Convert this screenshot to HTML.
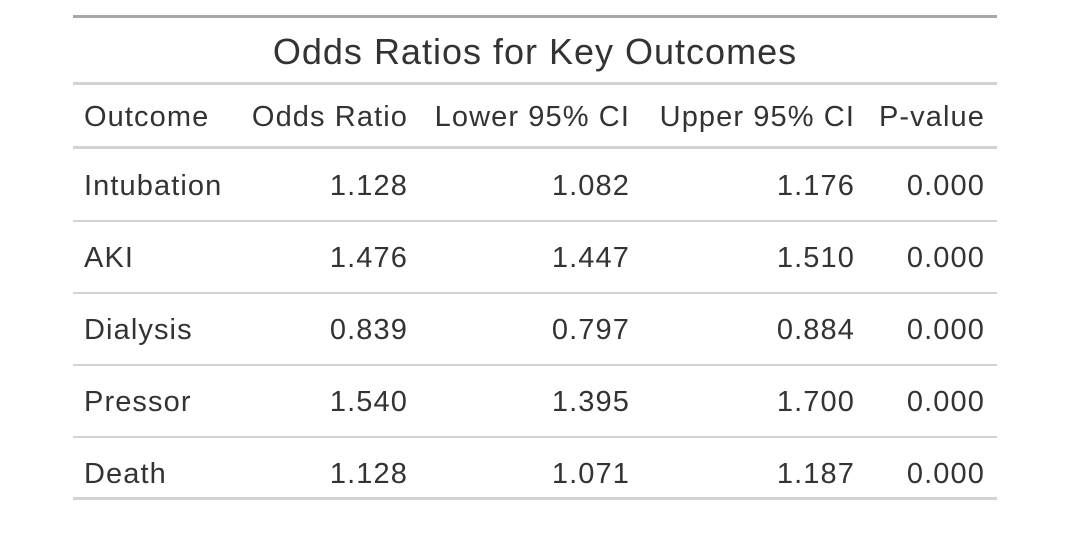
<!DOCTYPE html>
<html><head><meta charset="utf-8"><style>
body{margin:0;width:1066px;height:544px;background:#fff;position:relative;overflow:hidden;font-family:"Liberation Sans",sans-serif;color:#333}
.l{position:absolute;left:73px;width:924px}
.t{position:absolute;font-size:29px;letter-spacing:1.1px;line-height:30px;white-space:nowrap}
.r{text-align:right}
</style></head><body>
<div class="l" style="top:15px;height:3px;background:#A8A8A8"></div>
<div class="t" style="left:73px;width:924px;text-align:center;top:33px;font-size:36px;line-height:38px;letter-spacing:1px">Odds Ratios for Key Outcomes</div>
<div class="l" style="top:82px;height:3px;background:#D3D3D3"></div>
<div class="l" style="top:146px;height:3px;background:#D3D3D3"></div>
<div id="tbl"></div>
<script>
const headers=["Outcome","Odds Ratio","Lower 95% CI","Upper 95% CI","P-value"];
const outcomes=["Intubation","AKI","Dialysis","Pressor","Death"];
const oddsRatio=["1.128","1.476","0.839","1.540","1.128"];
const lower=["1.082","1.447","0.797","1.395","1.071"];
const upper=["1.176","1.510","0.884","1.700","1.187"];
const pval=["0.000","0.000","0.000","0.000","0.000"];
const rights=[408,630,855,985];
const root=document.getElementById('tbl');
function txt(s,y,left,right,name){
  const d=document.createElement('div');
  d.className='t';
  
  
  d.textContent=s;
  d.style.top=(y-15)+'px';
  if(right!=null){d.style.right=(1066-right)+'px';}else{d.style.left=left+'px';}
  root.appendChild(d);
}
txt(headers[0],117,84,null,'header-outcome');
headers.slice(1).forEach((h,i)=>txt(h,117,null,rights[i],'header-'+h.toLowerCase().replace(/[^a-z0-9]+/g,'-')));
const cols=[oddsRatio,lower,upper,pval];
outcomes.forEach((o,r)=>{
  const y=186+72*r;
  txt(o,y,84,null,'cell-outcome-'+o.toLowerCase());
  cols.forEach((c,i)=>txt(c[r],y,null,rights[i],'cell-'+o.toLowerCase()+'-col'+(i+1)));
  const ln=document.createElement('div');
  ln.className='l';
  
  
  const last=r==outcomes.length-1;
  ln.style.top=(last?y+323-300:y+34)+'px';
  ln.style.top=(last?(y+23):(y+34))+'px';
  ln.style.height=(last?3:2)+'px';
  ln.style.background='#D3D3D3';
  root.appendChild(ln);
});
</script>
</body></html>
